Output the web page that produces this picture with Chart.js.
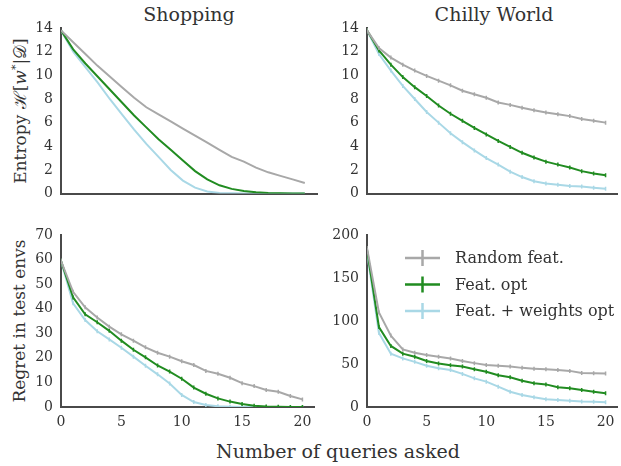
<!DOCTYPE html>
<html>
<head>
<meta charset="utf-8">
<script src="https://cdn.jsdelivr.net/npm/chart.js@4.4.1/dist/chart.umd.min.js"></script>
<style>
  body { margin: 0; background: #fff; width: 621px; height: 466px; overflow: hidden; position: relative;
         font-family: "DejaVu Serif", serif; color: #333; }
  canvas { position: absolute; }
  .lbl { position: absolute; white-space: nowrap; transform: translate(-50%, -50%); }
  .rot { transform: translate(-50%, -50%) rotate(-90deg); }
</style>
</head>
<body>
<div class="lbl" style="left:189px;top:14px;font-size:19px">Shopping</div>
<div class="lbl" style="left:494px;top:14px;font-size:19px">Chilly World</div>
<div class="lbl rot" style="left:19px;top:111px;font-size:17px">Entropy ℋ[<i>w</i><sup style="font-size:11px">*</sup>|𝒟]</div>
<div class="lbl rot" style="left:19px;top:321px;font-size:17px">Regret in test envs</div>
<div class="lbl" style="left:338px;top:451px;font-size:19px">Number of queries asked</div>

<canvas id="shopEnt" width="320" height="210" style="left:0;top:0"></canvas>
<canvas id="chillyEnt" width="313" height="210" style="left:310px;top:0"></canvas>
<canvas id="shopReg" width="320" height="230" style="left:0;top:215px"></canvas>
<canvas id="chillyReg" width="313" height="230" style="left:310px;top:215px"></canvas>

<script>
// x values: number of queries asked
const queries = [0, 1, 2, 3, 4, 5, 6, 7, 8, 9, 10, 11, 12, 13, 14, 15, 16, 17, 18, 19, 20];
const seriesNames = ['Random feat.', 'Feat. opt', 'Feat. + weights opt'];
const seriesColors = ['#a8a8a8', '#218c21', '#a9d8e6'];

// Shopping - entropy
const shopEntRandom = [13.8, 12.8, 11.8, 10.8, 9.9, 9.0, 8.1, 7.3, 6.7, 6.1, 5.5, 4.9, 4.3, 3.7, 3.1, 2.7, 2.2, 1.8, 1.5, 1.2, 0.9];
const shopEntFeat   = [13.8, 12.2, 11.0, 9.9, 8.8, 7.7, 6.6, 5.6, 4.6, 3.7, 2.8, 1.9, 1.2, 0.7, 0.4, 0.22, 0.12, 0.06, 0.03, 0.01, 0];
const shopEntBoth   = [13.8, 12.0, 10.7, 9.4, 8.0, 6.7, 5.4, 4.2, 3.1, 2.0, 1.1, 0.5, 0.18, 0.06, 0.02, 0, 0, 0, 0, 0, 0];

// Chilly World - entropy
const chillyEntRandom = [13.8, 12.3, 11.5, 10.9, 10.4, 9.95, 9.55, 9.15, 8.7, 8.4, 8.1, 7.7, 7.5, 7.25, 7.05, 6.85, 6.7, 6.55, 6.3, 6.15, 6.0];
const chillyEntFeat   = [13.8, 12.1, 10.9, 9.85, 9.0, 8.25, 7.45, 6.75, 6.15, 5.55, 5.0, 4.45, 3.95, 3.45, 3.05, 2.7, 2.45, 2.2, 1.9, 1.7, 1.55];
const chillyEntBoth   = [13.8, 11.8, 10.4, 9.1, 8.0, 6.9, 6.0, 5.1, 4.35, 3.65, 3.0, 2.45, 1.85, 1.4, 1.05, 0.85, 0.75, 0.65, 0.6, 0.5, 0.4];

// Shopping - regret
const shopRegRandom = [59.5, 46.9, 40.6, 36.4, 32.7, 29.6, 27.0, 24.3, 22.1, 20.5, 18.6, 17.1, 14.7, 13.5, 11.9, 9.7, 8.5, 6.9, 6.2, 4.5, 3.1];
const shopRegFeat   = [59.5, 44.6, 37.7, 34.5, 31.0, 27.0, 23.3, 20.2, 16.9, 14.4, 11.5, 7.9, 5.4, 3.5, 2.2, 1.2, 0.5, 0.2, 0.1, 0.05, 0];
const shopRegBoth   = [59.5, 42.2, 35.4, 30.8, 27.5, 24.1, 20.5, 16.8, 13.3, 9.6, 4.9, 2.0, 0.8, 0.3, 0.1, 0, 0, 0, 0, 0, 0];

// Chilly World - regret
const chillyRegRandom = [185, 110, 83, 67, 63, 60.5, 58.5, 56.5, 53.5, 51, 48.8, 48, 47, 45.5, 44.5, 43.8, 43, 42, 39.5, 39.2, 39];
const chillyRegFeat   = [183, 93, 71, 62, 58.5, 53.5, 50.5, 48.5, 47, 44, 41, 37, 34.5, 30.5, 27.5, 26.3, 23, 21.7, 19.8, 17.8, 16];
const chillyRegBoth   = [180, 86, 62, 56.5, 52.5, 48, 45, 43, 38.5, 33.3, 29.5, 23.6, 17.8, 14, 11.3, 9, 8.1, 7.4, 6.3, 6, 5.5];

// axis ranges / tick steps
const entropyTicks = { max: 14, step: 2 };
const shopRegTicks = { max: 70, step: 10 };
const chillyRegTicks = { max: 200, step: 50 };

const axisColor = '#4a4a4a';
const tickFont = { family: 'DejaVu Serif', size: 14 };

// draws the legend inside the plot area
const inlineLegend = {
  id: 'inlineLegend',
  afterDraw(chart) {
    const ctx = chart.ctx, a = chart.chartArea;
    chart.data.datasets.forEach((ds, i) => {
      const y = a.top + 23 + i * 26.5;
      const x0 = a.left + 38;
      ctx.save();
      ctx.strokeStyle = ds.borderColor;
      ctx.lineWidth = 2.5;
      ctx.beginPath();
      ctx.moveTo(x0, y); ctx.lineTo(x0 + 35, y);
      ctx.moveTo(x0 + 17.5, y - 8); ctx.lineTo(x0 + 17.5, y + 8);
      ctx.stroke();
      ctx.fillStyle = '#333';
      ctx.font = '16px "DejaVu Serif"';
      ctx.textBaseline = 'middle';
      ctx.fillText(ds.label, x0 + 50, y + 1);
      ctx.restore();
    });
  }
};

function makeChart(id, series, yr, opt) {
  const datasets = series.map((vals, i) => ({
    label: seriesNames[i],
    data: queries.map((q, j) => ({ x: q, y: vals[j] })),
    borderColor: seriesColors[i],
    backgroundColor: seriesColors[i],
    borderWidth: 2,
    pointStyle: 'line',
    rotation: 90,
    pointRadius: opt.pointRadius,
    pointBorderWidth: 1.5,
    tension: 0
  }));
  new Chart(document.getElementById(id), {
    type: 'line',
    data: { datasets },
    options: {
      responsive: false,
      animation: false,
      layout: { padding: { top: opt.padTop, right: opt.padRight, left: 0, bottom: 0 } },
      plugins: { legend: { display: false }, tooltip: { enabled: false } },
      scales: {
        x: {
          type: 'linear', min: 0, max: 21,
          grid: { display: false, drawTicks: false },
          border: { display: true, color: axisColor, width: 2 },
          ticks: { display: opt.xLabels, stepSize: 5, includeBounds: false, padding: 7, color: '#333', font: tickFont },
          afterFit: s => { s.height = opt.xHeight; }
        },
        y: {
          min: 0, max: yr.max,
          grid: { display: false, drawTicks: false },
          border: { display: true, color: axisColor, width: 2 },
          ticks: { stepSize: yr.step, padding: 8, color: '#333', font: tickFont },
          afterFit: s => { s.width = opt.yWidth; }
        }
      }
    },
    plugins: opt.legend ? [inlineLegend] : []
  });
}

makeChart('shopEnt', [shopEntRandom, shopEntFeat, shopEntBoth], entropyTicks,
  { pointRadius: 0, padTop: 28, padRight: 3, xHeight: 10, yWidth: 61, xLabels: false });
makeChart('chillyEnt', [chillyEntRandom, chillyEntFeat, chillyEntBoth], entropyTicks,
  { pointRadius: 2, padTop: 28, padRight: 0, xHeight: 10, yWidth: 57, xLabels: false });
makeChart('shopReg', [shopRegRandom, shopRegFeat, shopRegBoth], shopRegTicks,
  { pointRadius: 2, padTop: 20, padRight: 3, xHeight: 38, yWidth: 61, xLabels: true });
makeChart('chillyReg', [chillyRegRandom, chillyRegFeat, chillyRegBoth], chillyRegTicks,
  { pointRadius: 2, padTop: 20, padRight: 0, xHeight: 38, yWidth: 57, xLabels: true, legend: true });
</script>
</body>
</html>
